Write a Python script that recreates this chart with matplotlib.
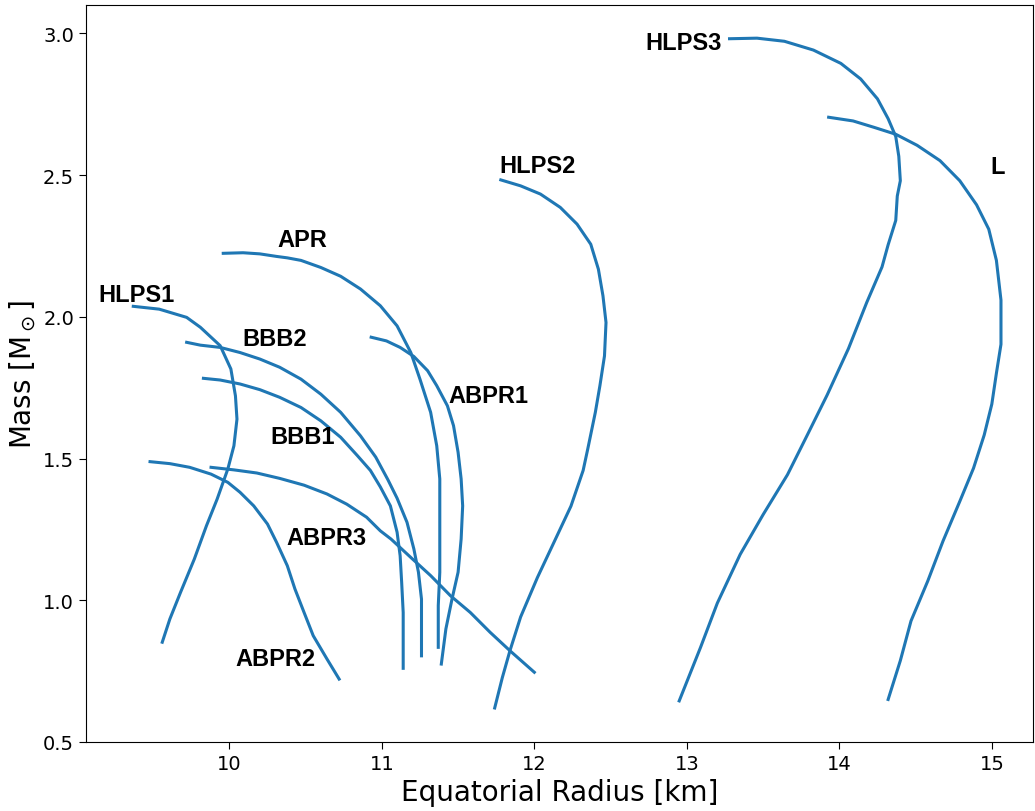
import numpy as np
import matplotlib
matplotlib.use('Agg')
import matplotlib.pyplot as plt

# Curvas masa-radio (radio ecuatorial en km, masa en masas solares)
hlps1_r = [9.37, 9.54, 9.72, 9.81, 9.94, 10.01, 10.04, 10.05, 10.03, 9.99, 9.92,
           9.85, 9.77, 9.68, 9.61, 9.56]
hlps1_m = [2.037, 2.027, 1.998, 1.963, 1.898, 1.816, 1.721, 1.639, 1.545, 1.463,
           1.357, 1.263, 1.145, 1.028, 0.934, 0.852]

bbb2_r = [9.72, 9.81, 9.94, 10.07, 10.20, 10.33, 10.47, 10.60, 10.73, 10.86, 10.96, 11.04,
          11.10, 11.165, 11.21, 11.24, 11.26, 11.26, 11.26]
bbb2_m = [1.910, 1.900, 1.892, 1.874, 1.851, 1.822, 1.780, 1.727, 1.663, 1.580, 1.505, 1.425,
          1.360, 1.275, 1.181, 1.099, 1.004, 0.910, 0.804]

bbb1_r = [9.83, 9.94, 10.07, 10.20, 10.33, 10.47, 10.60, 10.73, 10.84, 10.925, 10.99, 11.056,
          11.10, 11.12, 11.13, 11.14, 11.14, 11.14]
bbb1_m = [1.783, 1.777, 1.763, 1.743, 1.716, 1.680, 1.633, 1.575, 1.510, 1.458, 1.400, 1.333,
          1.240, 1.157, 1.063, 0.957, 0.863, 0.760]

apr_r = [9.96, 10.09, 10.20, 10.31, 10.38, 10.47, 10.60, 10.73, 10.86, 10.99, 11.10, 11.19,
         11.25, 11.32, 11.36, 11.38, 11.38, 11.38, 11.38, 11.37, 11.37]
apr_m = [2.224, 2.226, 2.222, 2.213, 2.208, 2.199, 2.174, 2.143, 2.098, 2.039, 1.968, 1.874,
         1.780, 1.663, 1.545, 1.428, 1.333, 1.216, 1.099, 0.981, 0.834]

abpr1_r = [10.93, 11.03, 11.12, 11.21, 11.30, 11.36, 11.43, 11.47, 11.50, 11.52, 11.53, 11.52,
           11.50, 11.46, 11.42, 11.39]
abpr1_m = [1.928, 1.915, 1.892, 1.860, 1.810, 1.757, 1.686, 1.616, 1.522, 1.428, 1.333, 1.216,
           1.099, 1.004, 0.899, 0.775]

hlps2_r = [11.78, 11.91, 12.04, 12.17, 12.28, 12.37, 12.42, 12.45, 12.47, 12.46, 12.43, 12.40,
           12.35, 12.32, 12.24, 12.13, 12.02, 11.91, 11.84, 11.79, 11.74]
hlps2_m = [2.483, 2.462, 2.433, 2.386, 2.327, 2.256, 2.168, 2.074, 1.980, 1.862, 1.757, 1.663,
           1.533, 1.458, 1.332, 1.206, 1.080, 0.941, 0.822, 0.727, 0.620]

abpr2_r = [9.48, 9.61, 9.74, 9.88, 9.99, 10.07, 10.16, 10.25, 10.31, 10.38, 10.43, 10.49,
           10.55, 10.64, 10.72]
abpr2_m = [1.489, 1.482, 1.469, 1.445, 1.416, 1.381, 1.333, 1.269, 1.204, 1.122, 1.040, 0.957,
           0.875, 0.793, 0.722]

abpr3_r = [9.88, 10.03, 10.18, 10.33, 10.49, 10.64, 10.77, 10.90, 10.99, 11.06, 11.19, 11.32,
           11.45, 11.58, 11.71, 11.84, 12.00]
abpr3_m = [1.469, 1.460, 1.449, 1.430, 1.406, 1.375, 1.339, 1.293, 1.245, 1.216, 1.151, 1.087,
           1.016, 0.957, 0.887, 0.822, 0.746]

hlps3_r = [13.28, 13.46, 13.64, 13.83, 14.01, 14.14, 14.25, 14.32, 14.37, 14.39, 14.40, 14.38,
           14.37, 14.32, 14.28, 14.18, 14.06, 13.92, 13.79, 13.66, 13.50, 13.35, 13.20, 13.09, 12.95]
hlps3_m = [2.981, 2.983, 2.972, 2.941, 2.894, 2.839, 2.769, 2.699, 2.636, 2.566, 2.480, 2.426,
           2.340, 2.254, 2.176, 2.051, 1.888, 1.724, 1.583, 1.443, 1.302, 1.162, 0.990, 0.834, 0.645]

l_r = [13.93, 14.09, 14.23, 14.37, 14.51, 14.66, 14.79, 14.90, 14.98, 15.03, 15.06, 15.06,
       15.03, 15.00, 14.95, 14.88, 14.79, 14.68, 14.58, 14.47, 14.40, 14.32]
l_m = [2.704, 2.691, 2.668, 2.644, 2.605, 2.551, 2.480, 2.395, 2.309, 2.199, 2.059, 1.903,
       1.801, 1.692, 1.583, 1.466, 1.349, 1.209, 1.068, 0.927, 0.787, 0.650]

# Etiquetas de cada ecuación de estado
nombres = ['HLPS1', 'APR', 'BBB2', 'BBB1', 'ABPR1', 'ABPR3', 'ABPR2', 'HLPS2', 'HLPS3', 'L']
etiqueta_r = [9.39, 10.48, 10.30, 10.48, 11.70, 10.64, 10.30, 12.02, 12.98, 15.04]
etiqueta_m = [2.077, 2.271, 1.925, 1.576, 1.724, 1.220, 0.793, 2.535, 2.969, 2.532]

curvas = [(hlps1_r, hlps1_m), (bbb2_r, bbb2_m), (bbb1_r, bbb1_m), (apr_r, apr_m),
          (abpr1_r, abpr1_m), (hlps2_r, hlps2_m), (abpr2_r, abpr2_m), (abpr3_r, abpr3_m),
          (hlps3_r, hlps3_m), (l_r, l_m)]

fig = plt.figure(figsize=(10.35, 8.12), dpi=100)
ax = fig.add_axes([86 / 1035, 69 / 812, 947 / 1035, 737 / 812])

for r, m in curvas:
    ax.plot(r, m, color='#1f77b4', linewidth=2.2, solid_joinstyle='round')

for nombre, r, m in zip(nombres, etiqueta_r, etiqueta_m):
    ax.text(r, m, nombre, ha='center', va='center', fontsize=17,
            fontweight='bold', family='Liberation Sans')

ax.set_xlim(9.06, 15.27)
ax.set_ylim(0.5, 3.1)
ax.set_xticks([10, 11, 12, 13, 14, 15])
ax.set_yticks([0.5, 1.0, 1.5, 2.0, 2.5, 3.0])
ax.tick_params(labelsize=14, length=5)
ax.set_xlabel('Equatorial Radius [km]', fontsize=20)
ax.set_ylabel(r'Mass [M$_\odot$]', fontsize=20)

fig.savefig('out.png', dpi=100)
